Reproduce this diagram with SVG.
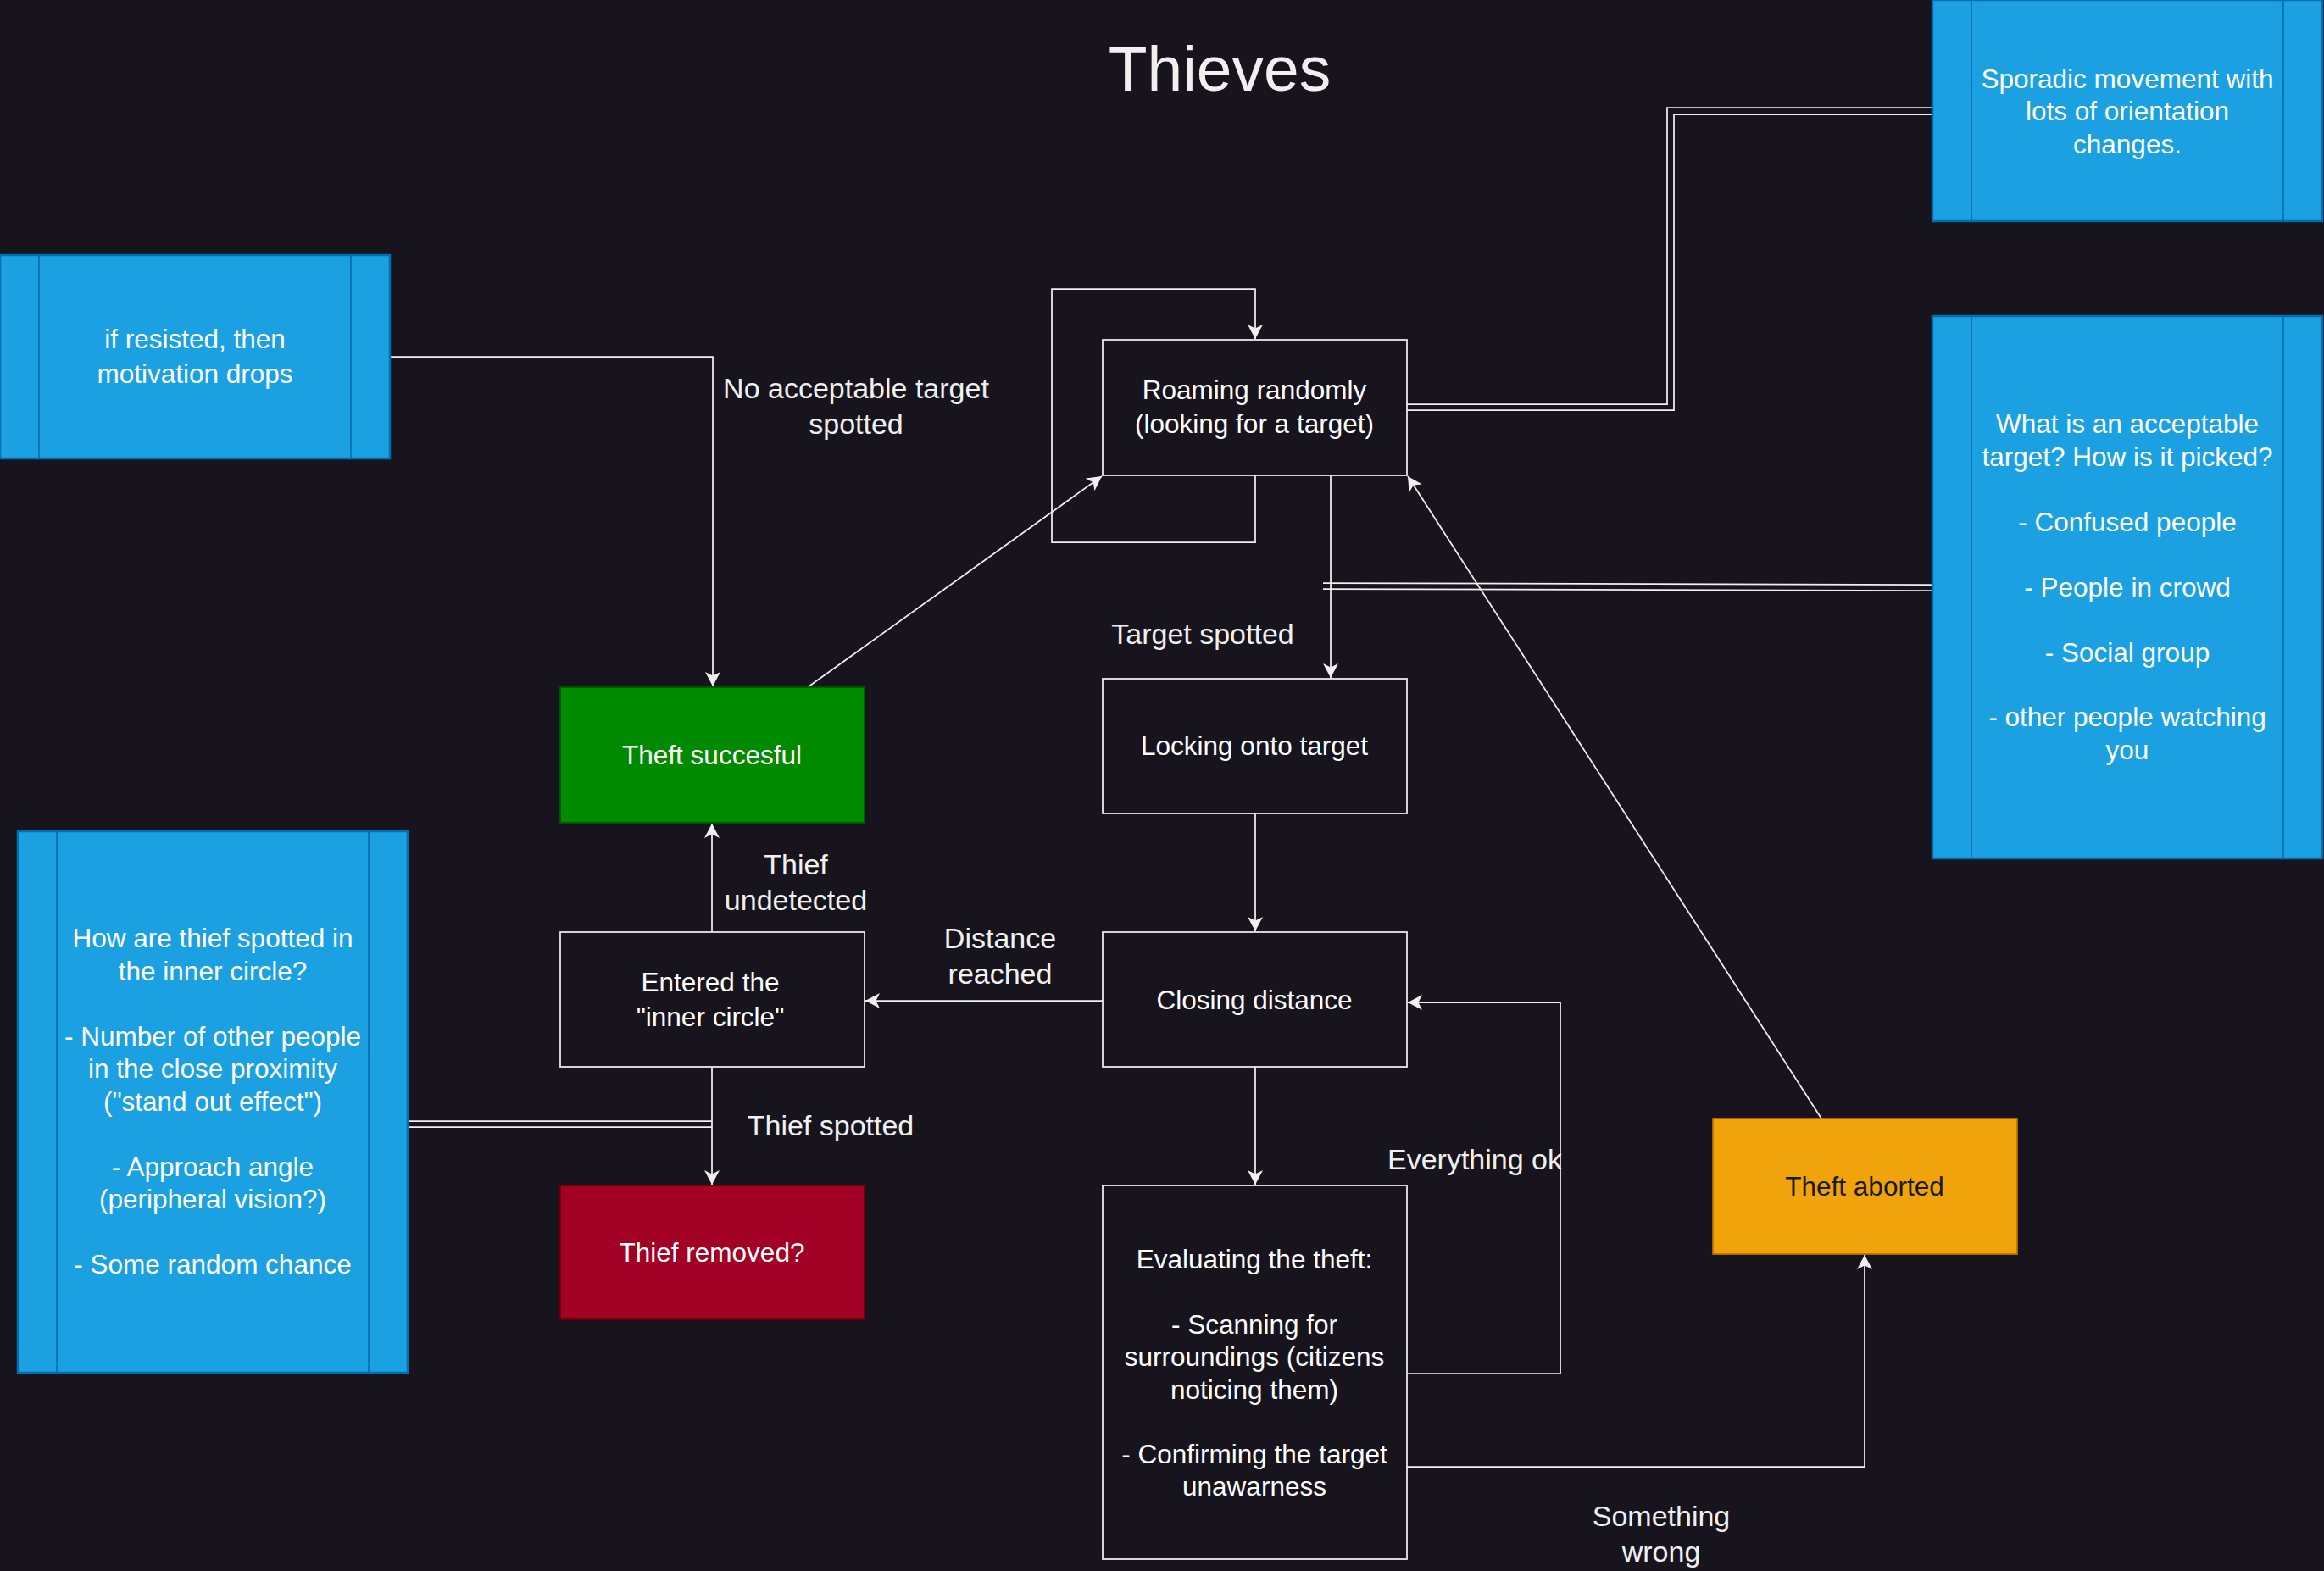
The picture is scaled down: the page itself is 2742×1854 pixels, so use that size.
<svg xmlns="http://www.w3.org/2000/svg" width="2742" height="1854" viewBox="0 0 2742 1854">
<defs>
<marker id="arr" markerUnits="userSpaceOnUse" markerWidth="18" markerHeight="18" refX="17" refY="9" orient="auto">
<path d="M0,0 L17,9 L0,18 L4.5,9 Z" fill="#f0f0f0"/>
</marker>
<style>
.bg{fill:#18141d}
.n{fill:#18141d;stroke:#f0f0f0;stroke-width:1.75}
.p{fill:#1ba1e2;stroke:#006eaf;stroke-width:2.5}
.pl{stroke:#006eaf;stroke-width:1.75;fill:none}
.t{font-family:"Liberation Sans",Arial,sans-serif;font-size:31.5px;fill:#ffffff;text-anchor:middle}
.lb{font-family:"Liberation Sans",Arial,sans-serif;font-size:34px;fill:#f0f0f0;text-anchor:middle}
.e{fill:none;stroke:#f0f0f0;stroke-width:1.75}
.ea{fill:none;stroke:#f0f0f0;stroke-width:1.75;marker-end:url(#arr)}
</style>
</defs>
<rect class="bg" x="0" y="0" width="2742" height="1854"/>
<text x="1439" y="107" style="font-family:'Liberation Sans',Arial,sans-serif;font-size:75px;fill:#f0f0f0;text-anchor:middle">Thieves</text>

<g id="connectors">
<path class="ea" d="M1481,561 L1481,640 L1241,640 L1241,341 L1481,341 L1481,400"/>
<path class="ea" d="M1570,561 L1570,800"/>
<path class="ea" d="M1481,960 L1481,1099"/>
<path class="ea" d="M1301,1181 L1021,1181"/>
<path class="ea" d="M1481,1259 L1481,1398"/>
<path class="ea" d="M1660,1621 L1841,1621 L1841,1183 L1661,1183"/>
<path class="ea" d="M1660,1731 L2200,1731 L2200,1481"/>
<path class="ea" d="M2149,1320 L1661,562"/>
<path class="ea" d="M840,1100 L840,972"/>
<path class="ea" d="M953,811 L1300,562"/>
<path class="ea" d="M840,1259 L840,1398"/>
<path class="ea" d="M461,421 L841,421 L841,810"/>
<path class="e" d="M1660,477 L1967,477 L1967,127 L2280,127"/>
<path class="e" d="M1660,484 L1975,484 L1975,135 L2280,135"/>
<path class="e" d="M1561,688 L2280,690"/>
<path class="e" d="M1561,695 L2280,697"/>
<path class="e" d="M481,1323 L840,1323"/>
<path class="e" d="M481,1330 L840,1330"/>
<text class="lb" x="1419" y="760">Target spotted</text>
<text class="lb" x="1010" y="470">No acceptable target</text>
<text class="lb" x="1010" y="512">spotted</text>
<text class="lb" x="939" y="1032">Thief</text>
<text class="lb" x="939" y="1074">undetected</text>
<text class="lb" x="1180" y="1119">Distance</text>
<text class="lb" x="1180" y="1161">reached</text>
<text class="lb" x="980" y="1340">Thief spotted</text>
<text class="lb" x="1740" y="1380">Everything ok</text>
<text class="lb" x="1960" y="1801">Something</text>
<text class="lb" x="1960" y="1843">wrong</text>
</g>

<g id="roaming">
<rect class="n" x="1301" y="401" width="359" height="160"/>
<text class="t" x="1480" y="471">Roaming randomly</text>
<text class="t" x="1480" y="511">(looking for a target)</text>
</g>
<g id="locking">
<rect class="n" x="1301" y="801" width="359" height="159"/>
<text class="t" x="1480" y="891">Locking onto target</text>
</g>
<g id="closing">
<rect class="n" x="1301" y="1100" width="359" height="159"/>
<text class="t" x="1480" y="1191">Closing distance</text>
</g>
<g id="evaluating">
<rect class="n" x="1301" y="1399" width="359" height="441"/>
<text class="t" x="1480" y="1497">Evaluating the theft:</text>
<text class="t" x="1480" y="1574">- Scanning for</text>
<text class="t" x="1480" y="1612">surroundings (citizens</text>
<text class="t" x="1480" y="1651">noticing them)</text>
<text class="t" x="1480" y="1727">- Confirming the target</text>
<text class="t" x="1480" y="1765">unawarness</text>
</g>
<g id="entered">
<rect class="n" x="661" y="1100" width="359" height="159"/>
<text class="t" x="838" y="1170">Entered the</text>
<text class="t" x="838" y="1211">"inner circle"</text>
</g>
<g id="success">
<rect x="661" y="811" width="359" height="160" fill="#008a00" stroke="#005700" stroke-width="1.75"/>
<text class="t" x="840" y="902">Theft succesful</text>
</g>
<g id="removed">
<rect x="661" y="1399" width="359" height="158" fill="#a20025" stroke="#6f0000" stroke-width="1.75"/>
<text class="t" x="840" y="1489">Thief removed?</text>
</g>
<g id="aborted">
<rect x="2021" y="1320" width="359" height="160" fill="#f0a30a" stroke="#bd7000" stroke-width="1.75"/>
<text class="t" x="2200" y="1411" style="fill:#1a1a1a">Theft aborted</text>
</g>
<g id="sporadic">
<rect class="p" x="2280" y="0" width="460" height="261"/>
<line class="pl" x1="2326" y1="0" x2="2326" y2="261"/>
<line class="pl" x1="2694" y1="0" x2="2694" y2="261"/>
<text class="t" x="2510" y="104">Sporadic movement with</text>
<text class="t" x="2510" y="142">lots of orientation</text>
<text class="t" x="2510" y="181">changes.</text>
</g>
<g id="acceptable">
<rect class="p" x="2280" y="373" width="460" height="640"/>
<line class="pl" x1="2326" y1="373" x2="2326" y2="1013"/>
<line class="pl" x1="2694" y1="373" x2="2694" y2="1013"/>
<text class="t" x="2510" y="511">What is an acceptable</text>
<text class="t" x="2510" y="550">target? How is it picked?</text>
<text class="t" x="2510" y="627">- Confused people</text>
<text class="t" x="2510" y="704">- People in crowd</text>
<text class="t" x="2510" y="781">- Social group</text>
<text class="t" x="2510" y="857">- other people watching</text>
<text class="t" x="2510" y="896">you</text>
</g>
<g id="resisted">
<rect class="p" x="0" y="301" width="460" height="240"/>
<line class="pl" x1="46" y1="301" x2="46" y2="541"/>
<line class="pl" x1="414" y1="301" x2="414" y2="541"/>
<text class="t" x="230" y="411">if resisted, then</text>
<text class="t" x="230" y="452">motivation drops</text>
</g>
<g id="spotted-note">
<rect class="p" x="21" y="981" width="460" height="639"/>
<line class="pl" x1="67" y1="981" x2="67" y2="1620"/>
<line class="pl" x1="435" y1="981" x2="435" y2="1620"/>
<text class="t" x="251" y="1118">How are thief spotted in</text>
<text class="t" x="251" y="1157">the inner circle?</text>
<text class="t" x="251" y="1234">- Number of other people</text>
<text class="t" x="251" y="1272">in the close proximity</text>
<text class="t" x="251" y="1311">("stand out effect")</text>
<text class="t" x="251" y="1388">- Approach angle</text>
<text class="t" x="251" y="1426">(peripheral vision?)</text>
<text class="t" x="251" y="1503">- Some random chance</text>
</g>
</svg>
